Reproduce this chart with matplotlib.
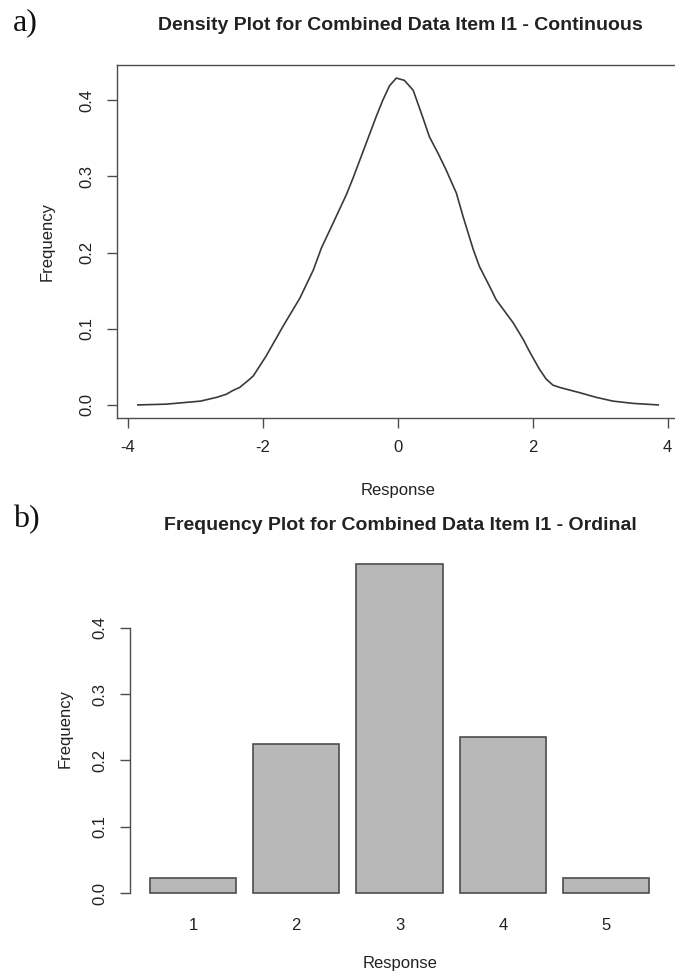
import matplotlib
matplotlib.use('Agg')
import matplotlib.pyplot as plt
import numpy as np

plt.rcParams['font.family'] = ['Liberation Sans', 'DejaVu Sans']

# density curve read off panel a)
resp_x = [-3.85, -3.43, -2.92, -2.68, -2.54, -2.44, -2.34, -2.19, -2.14, -1.95,
          -1.70, -1.45, -1.25, -1.13, -0.96, -0.76, -0.66, -0.46, -0.32, -0.22,
          -0.12, -0.02, 0.10, 0.23, 0.37, 0.47, 0.60, 0.72, 0.87, 0.97,
          1.12, 1.21, 1.36, 1.46, 1.71, 1.86, 1.96, 2.10, 2.20, 2.30,
          2.40, 2.70, 2.94, 3.19, 3.49, 3.86]
dens_y = [0.000, 0.001, 0.005, 0.010, 0.014, 0.019, 0.023, 0.034, 0.038, 0.064,
          0.103, 0.140, 0.177, 0.206, 0.238, 0.276, 0.298, 0.345, 0.378, 0.400,
          0.419, 0.429, 0.426, 0.413, 0.378, 0.352, 0.330, 0.308, 0.278, 0.247,
          0.204, 0.182, 0.156, 0.138, 0.108, 0.086, 0.069, 0.047, 0.034, 0.026,
          0.023, 0.016, 0.010, 0.005, 0.002, 0.000]

# ordinal frequencies, panel b)
categories = ['1', '2', '3', '4', '5']
freq = [0.023, 0.225, 0.496, 0.235, 0.0235]

xticks_a = [-4, -2, 0, 2, 4]
yticks = [0.0, 0.1, 0.2, 0.3, 0.4]
ytick_labels = ['0.0', '0.1', '0.2', '0.3', '0.4']

W, H = 675, 972
def fx(px):
    return px / W
def fy(py):
    return 1 - py / H

ink = '#222222'
fig = plt.figure(figsize=(6.75, 9.72), dpi=100)

# ---- panel a
ax1 = fig.add_axes([fx(117), fy(418), fx(679) - fx(117), fy(65) - fy(418)])
ax1.plot(resp_x, dens_y, color='#3a3a3a', lw=1.2, solid_joinstyle='round')
rng = max(resp_x) - min(resp_x)
ax1.set_xlim(min(resp_x) - 0.04 * rng, max(resp_x) + 0.04 * rng)
ymax = max(dens_y)
ax1.set_ylim(-0.04 * ymax, 1.04 * ymax)
ax1.set_xticks(xticks_a)
ax1.set_xticklabels([str(v) for v in xticks_a])
ax1.set_yticks(yticks)
ax1.set_yticklabels(ytick_labels, rotation=90, va='center')
for s in ax1.spines.values():
    s.set_color('#4d4d4d')
    s.set_linewidth(1.0)
ax1.tick_params(direction='out', length=7, width=1, color='#4d4d4d',
                labelcolor=ink, labelsize=12)
ax1.tick_params(axis='x', pad=9)
ax1.tick_params(axis='y', pad=9)

# ---- panel b
ax2 = fig.add_axes([fx(130), fy(906.5), fx(669) - fx(130), fy(550.6) - fy(906.5)])
xpos = 0.7 + 1.2 * np.arange(len(freq))
ax2.bar(xpos, freq, width=1.0, color='#b8b8b8', edgecolor='#4d4d4d', lw=1.2)
left, right = xpos[0] - 0.5, xpos[-1] + 0.5
ax2.set_xlim(left - 0.04 * (right - left), right + 0.04 * (right - left))
fmax = max(freq)
ax2.set_ylim(-0.04 * fmax, 1.04 * fmax)
for k in ['top', 'right', 'bottom']:
    ax2.spines[k].set_visible(False)
ax2.spines['left'].set_bounds(0, 0.4)
ax2.spines['left'].set_color('#4d4d4d')
ax2.spines['left'].set_linewidth(1.0)
ax2.set_yticks(yticks)
ax2.set_yticklabels(ytick_labels, rotation=90, va='center')
ax2.set_xticks(xpos)
ax2.set_xticklabels(categories)
ax2.tick_params(direction='out', length=7, width=1, color='#4d4d4d',
                labelcolor=ink, labelsize=12)
ax2.tick_params(axis='y', pad=9)
ax2.tick_params(axis='x', length=0, pad=8)

# ---- titles and labels
fig.text(fx(400), fy(30), 'Density Plot for Combined Data Item I1 - Continuous',
         ha='center', va='baseline', fontsize=14, fontweight='bold', color=ink)
fig.text(fx(400), fy(530), 'Frequency Plot for Combined Data Item I1 - Ordinal',
         ha='center', va='baseline', fontsize=14, fontweight='bold', color=ink)
fig.text(fx(398), fy(490), 'Response', ha='center', va='center', fontsize=12, color=ink)
fig.text(fx(400), fy(963), 'Response', ha='center', va='center', fontsize=12, color=ink)
fig.text(fx(47), fy(241), 'Frequency', rotation=90, ha='center', va='center',
         fontsize=12, color=ink)
fig.text(fx(65), fy(728), 'Frequency', rotation=90, ha='center', va='center',
         fontsize=12, color=ink)
fig.text(fx(13), fy(30), 'a)', family=['Liberation Serif', 'DejaVu Serif'],
         fontsize=23, ha='left', va='baseline', color='#111111')
fig.text(fx(13), fy(527), 'b)', family=['Liberation Serif', 'DejaVu Serif'],
         fontsize=23, ha='left', va='baseline', color='#111111')

fig.savefig('out.png', dpi=100)
